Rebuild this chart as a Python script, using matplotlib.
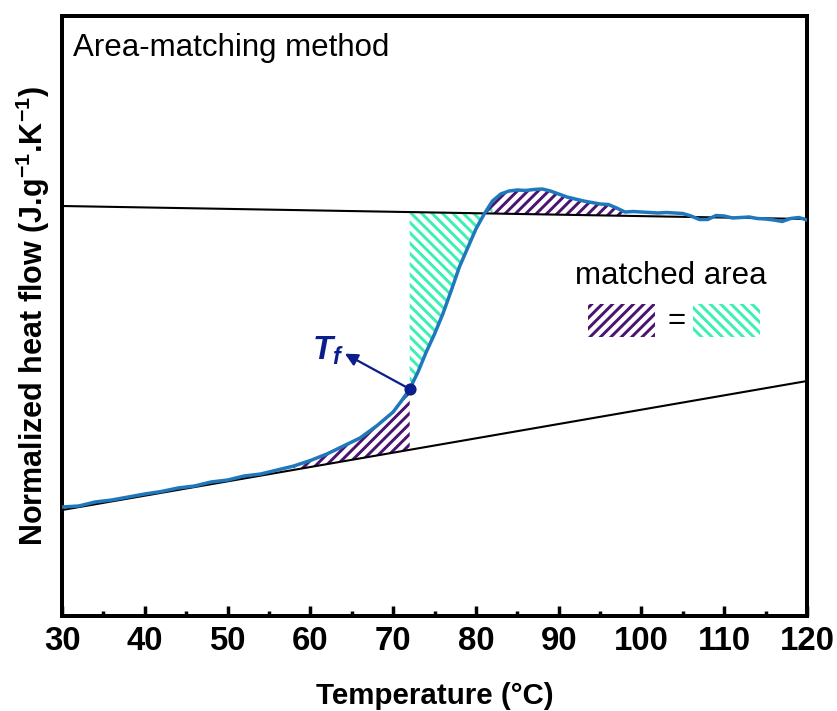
import matplotlib
matplotlib.use('Agg')
import matplotlib.pyplot as plt
from matplotlib.patches import Rectangle
import numpy as np

plt.rcParams['font.family'] = ['Liberation Sans', 'DejaVu Sans']
plt.rcParams['mathtext.fontset'] = 'custom'
plt.rcParams['mathtext.rm'] = 'Liberation Sans'
plt.rcParams['mathtext.it'] = 'Liberation Sans:italic:bold'
plt.rcParams['mathtext.bf'] = 'Liberation Sans:bold'
plt.rcParams['mathtext.default'] = 'regular'
plt.rcParams['hatch.linewidth'] = 1.7

# DSC curve (arbitrary heat-flow units)
temp = [30, 32, 34, 36, 38, 40, 42, 44, 46, 48, 50, 52, 54, 56, 58, 60, 62, 64,
        66, 68, 70, 71, 72, 73, 74, 75, 76, 77, 78, 79, 80, 81, 82, 83, 84, 85,
        86, 87, 88, 89, 90, 91, 92, 93, 94, 95, 96, 97, 98, 99, 100, 101, 102,
        103, 104, 105, 106, 107, 108, 109, 110, 111, 112, 113, 114, 115, 116,
        117, 118, 119, 120]
heat = [1.09, 1.10, 1.14, 1.16, 1.19, 1.22, 1.245, 1.28, 1.30, 1.34, 1.36, 1.40,
        1.42, 1.46, 1.50, 1.555, 1.62, 1.70, 1.78, 1.90, 2.04, 2.15, 2.27, 2.44,
        2.64, 2.82, 3.02, 3.25, 3.49, 3.68, 3.87, 4.02, 4.15, 4.22, 4.25, 4.26,
        4.255, 4.265, 4.27, 4.25, 4.22, 4.19, 4.17, 4.15, 4.135, 4.12, 4.115,
        4.08, 4.04, 4.045, 4.04, 4.035, 4.03, 4.035, 4.03, 4.025, 4.00, 3.965,
        3.965, 4.005, 4.00, 3.98, 3.985, 3.99, 3.975, 3.97, 3.96, 3.945, 3.975,
        3.985, 3.96]

# glass and liquid baselines (end points)
line_T = [30, 120]
glass_line = [1.06, 2.35]
liquid_line = [4.10, 3.97]

Tf = 72

temp = np.array(temp)
heat = np.array(heat)
glass_at = np.polyval(np.polyfit(line_T, glass_line, 1), temp)
liquid_at = np.polyval(np.polyfit(line_T, liquid_line, 1), temp)
tf_heat = heat[temp == Tf][0]

purple = '#4a1470'
green = '#3cf0b4'
navy = '#0c1e8c'

fig = plt.figure(figsize=(837 / 125, 711 / 125), dpi=125)
ax = fig.add_axes([0.0741, 0.1336, 0.8901, 0.8439])

ax.plot(line_T, glass_line, color='black', lw=1.2, zorder=2)
ax.plot(line_T, liquid_line, color='black', lw=1.2, zorder=2)

ax.fill_between(temp, glass_at, heat, where=(temp >= 57) & (temp <= Tf),
                facecolor='none', edgecolor=purple, hatch='////', linewidth=0, zorder=1)
ax.fill_between(temp, heat, liquid_at, where=(temp >= Tf) & (temp <= 82),
                interpolate=True, facecolor='none', edgecolor=green, hatch='\\\\\\\\',
                linewidth=0, zorder=1)
ax.fill_between(temp, liquid_at, heat, where=(temp >= 80) & (temp <= 98) & (heat > liquid_at),
                interpolate=True, facecolor='none', edgecolor=purple, hatch='////',
                linewidth=0, zorder=1)

ax.plot(temp, heat, color='#1f78bc', lw=2.0, zorder=3)

ax.plot([Tf], [tf_heat], marker='o', ms=6, color=navy, zorder=4)
ax.annotate('', xy=(63.8, 2.64), xytext=(Tf, tf_heat),
            arrowprops=dict(arrowstyle='-|>', color=navy, lw=1.3, mutation_scale=15), zorder=4)
ax.text(60.2, 2.56, r'$\mathit{T_f}$', color=navy, fontsize=19, va='baseline', ha='left')

ax.text(0.015, 0.972, 'Area-matching method', transform=ax.transAxes,
        fontsize=18, va='top', ha='left')

# matched-area key
ax.text(0.817, 0.553, 'matched area', transform=ax.transAxes, fontsize=18,
        ha='center', va='baseline')
ax.add_patch(Rectangle((0.706, 0.465), 0.09, 0.055, transform=ax.transAxes,
                       facecolor='none', edgecolor=purple, hatch='////', linewidth=0))
ax.add_patch(Rectangle((0.847, 0.465), 0.09, 0.055, transform=ax.transAxes,
                       facecolor='none', edgecolor=green, hatch='\\\\\\\\', linewidth=0))
ax.text(0.825, 0.492, '=', transform=ax.transAxes, fontsize=18, ha='center', va='center')

ax.set_xlim(30, 120)
ax.set_ylim(0, 6)
ax.set_xticks(range(30, 121, 10))
ax.set_xticks(range(35, 120, 10), minor=True)
ax.set_yticks([])
ax.tick_params(axis='x', which='major', direction='in', length=6, width=2, labelsize=19, pad=6)
ax.tick_params(axis='x', which='minor', direction='in', length=3, width=2)
for lbl in ax.get_xticklabels():
    lbl.set_fontweight('bold')
for sp in ax.spines.values():
    sp.set_linewidth(2.3)

ax.set_xlabel('Temperature (°C)', fontsize=17, fontweight='bold', labelpad=14)
ax.set_ylabel(r'Normalized heat flow (J.g$^{-1}$.K$^{-1}$)', fontsize=17.6,
              fontweight='bold', labelpad=6)

fig.savefig('out.png', dpi=125)
